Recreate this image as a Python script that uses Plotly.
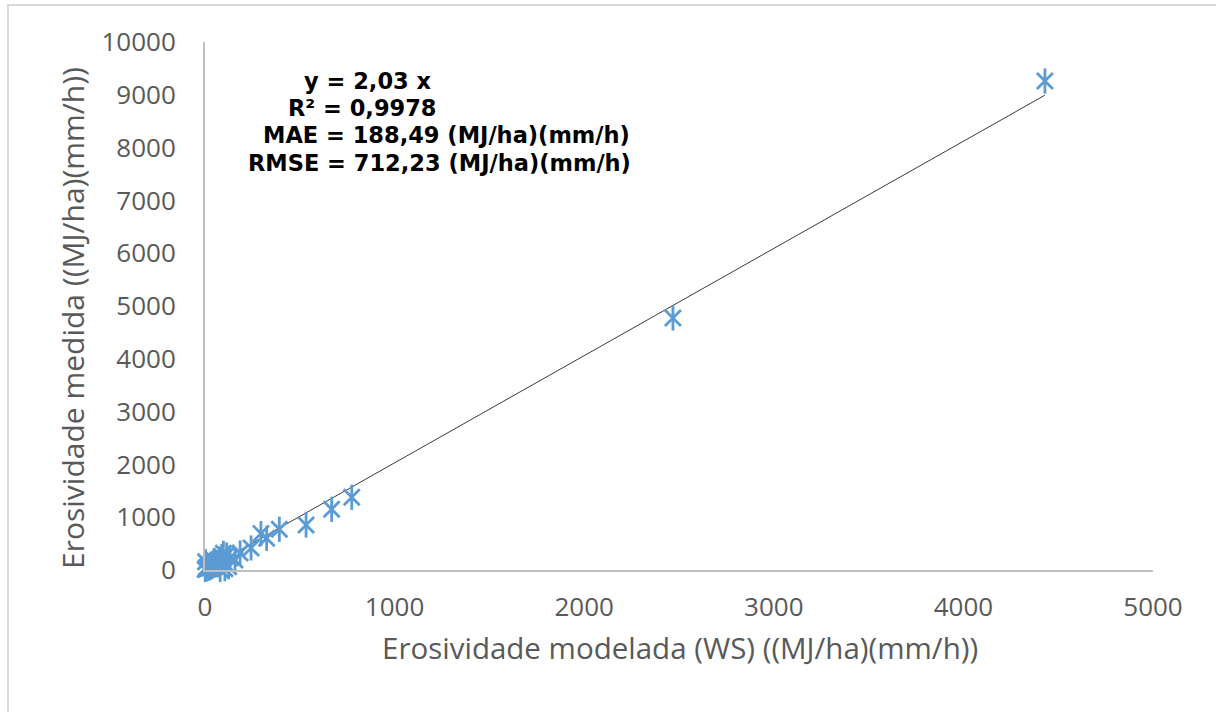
import plotly.graph_objects as go

# ---- data ----
x_ws = [4430, 2468, 774, 668, 533, 392, 325, 295, 243,
        185, 158, 132, 125, 114, 105, 97, 88, 80, 75, 62, 55, 48, 42,
        36, 30, 25, 20, 15, 12, 8, 5, 3, 1]
y_med = [9261, 4773, 1377, 1150, 852, 771, 600, 690, 417,
         322, 189, 227, 60, 284, 25, 316, 252, 10, 160, 140, 95, 180, 133,
         60, 110, 40, 75, 30, 55, 20, 38, 157, 10]
slope = 2.03
x_ticks = [0, 1000, 2000, 3000, 4000, 5000]
y_ticks = [0, 1000, 2000, 3000, 4000, 5000, 6000, 7000, 8000, 9000, 10000]
x_tick_labels = [str(v) for v in x_ticks]
y_tick_labels = [str(v) for v in y_ticks]
x_title = "Erosividade modelada (WS) ((MJ/ha)(mm/h))"
y_title = "Erosividade medida ((MJ/ha)(mm/h))"
stats_lines = ["y = 2,03 x", "R² = 0,9978",
               "MAE = 188,49 (MJ/ha)(mm/h)", "RMSE = 712,23 (MJ/ha)(mm/h)"]

W, H = 1216, 712
L, R, T, B = 205, 63, 42, 142
PW, PH = W - L - R, H - T - B


def px(xp):
    return (xp - L) / PW


def py(yp):
    return (H - B - yp) / PH


BLUE = "#5B9BD5"
GRAY_TXT = "#595959"

fig = go.Figure()

# trendline
fig.add_trace(go.Scatter(
    x=[0, max(x_ws)], y=[0, slope * max(x_ws)], mode="lines",
    line=dict(color="#3a3a3a", width=1), showlegend=False, hoverinfo="skip"))

# star markers: X + vertical bar
fig.add_trace(go.Scatter(
    x=x_ws, y=y_med, mode="markers", showlegend=False, cliponaxis=False,
    marker=dict(symbol="x-thin-open", size=16, color=BLUE,
                line=dict(width=2.8, color=BLUE))))
fig.add_trace(go.Scatter(
    x=x_ws, y=y_med, mode="markers", showlegend=False, cliponaxis=False,
    marker=dict(symbol="line-ns-open", size=18, color=BLUE,
                line=dict(width=2.8, color=BLUE))))

# stats text
lefts = [302, 286, 261, 246]
centers = [81, 108, 135, 163]
for txt, lx, cy in zip(stats_lines, lefts, centers):
    fig.add_annotation(text=txt, xref="paper", yref="paper",
                       x=px(lx), y=py(cy), xanchor="left", yanchor="middle",
                       showarrow=False,
                       font=dict(family="DejaVu Sans", size=22.5, color="#000000",
                                 weight="bold"))

# axis titles
fig.add_annotation(text=x_title, xref="paper", yref="paper",
                   x=px(680), y=py(647), xanchor="center", yanchor="middle",
                   showarrow=False,
                   font=dict(family="Open Sans", size=29.5, color=GRAY_TXT))
fig.add_annotation(text=y_title, xref="paper", yref="paper", textangle=-90,
                   x=px(72), y=py(318), xanchor="center", yanchor="middle",
                   showarrow=False,
                   font=dict(family="Open Sans", size=30, color=GRAY_TXT))

# outer chart border
fig.add_shape(type="rect", xref="paper", yref="paper",
              x0=px(8), x1=px(1240), y0=py(740), y1=py(5),
              line=dict(color="#d9d9d9", width=2), fillcolor="rgba(0,0,0,0)",
              layer="below")

axis_common = dict(showgrid=False, zeroline=False, showline=True,
                   linecolor="#bfbfbf", linewidth=2,
                   ticks="outside", tickcolor="rgba(0,0,0,0)",
                   tickfont=dict(family="Open Sans", size=26, color=GRAY_TXT))

fig.update_layout(
    width=W, height=H,
    margin=dict(l=L, r=R, t=T, b=B, autoexpand=False),
    paper_bgcolor="white", plot_bgcolor="white",
    xaxis=dict(range=[0, 5000], tickvals=x_ticks, ticktext=x_tick_labels,
               ticklen=13, **axis_common),
    yaxis=dict(range=[0, 10000], tickvals=y_ticks, ticktext=y_tick_labels,
               ticklen=22, **axis_common),
)

fig.write_html("out.html")
